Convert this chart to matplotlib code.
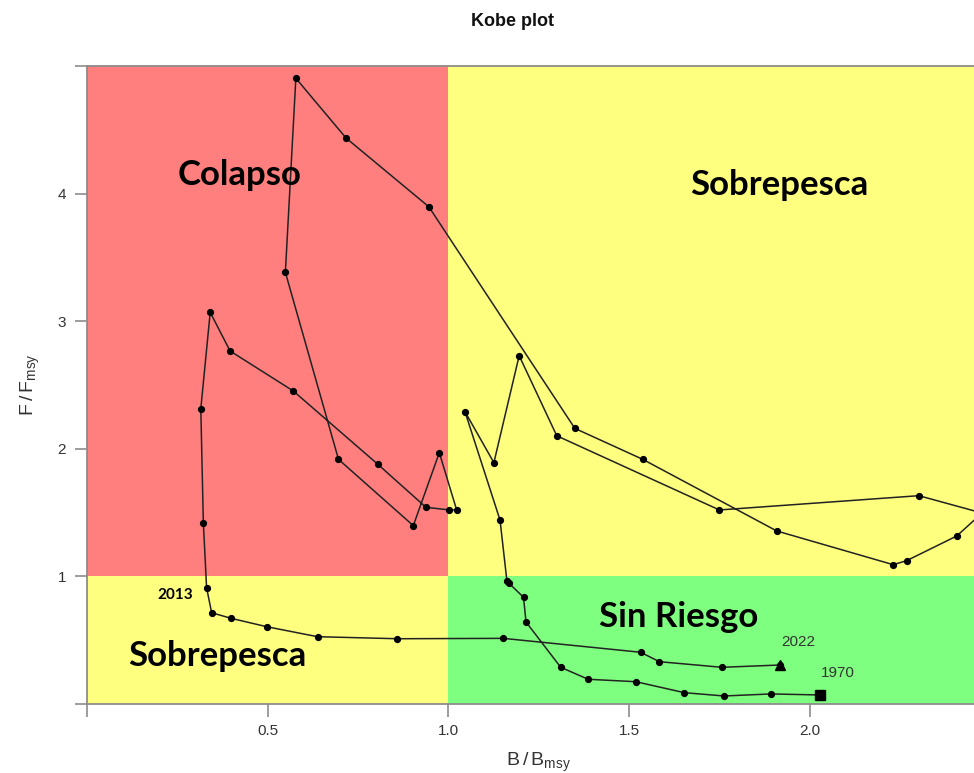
import matplotlib

matplotlib.use("Agg")
import matplotlib.pyplot as plt

# trajectory 1970 -> 2022
b_bmsy = [2.029, 1.892, 1.763, 1.653, 1.519, 1.387, 1.311, 1.215, 1.208, 1.168,
          1.162, 1.143, 1.046, 1.126, 1.196, 1.300, 1.750, 2.302, 2.477, 2.407,
          2.268, 2.231, 1.909, 1.538, 1.350, 0.946, 0.717, 0.578, 0.549, 0.696,
          0.903, 0.975, 1.023, 1.003, 0.938, 0.805, 0.571, 0.396, 0.341, 0.315,
          0.322, 0.331, 0.345, 0.399, 0.498, 0.638, 0.859, 1.152, 1.532, 1.584,
          1.757, 1.918]
f_fmsy = [0.067, 0.075, 0.059, 0.085, 0.171, 0.190, 0.284, 0.639, 0.833, 0.943,
          0.963, 1.439, 2.289, 1.889, 2.728, 2.100, 1.518, 1.630, 1.494, 1.314,
          1.120, 1.089, 1.353, 1.915, 2.158, 3.896, 4.435, 4.904, 3.382, 1.915,
          1.395, 1.967, 1.518, 1.518, 1.539, 1.876, 2.451, 2.765, 3.068, 2.312,
          1.418, 0.908, 0.712, 0.668, 0.602, 0.524, 0.508, 0.511, 0.402, 0.328,
          0.284, 0.302]

x_ticks = [0, 0.5, 1.0, 1.5, 2.0]
x_labels = ["", "0.5", "1.0", "1.5", "2.0"]
y_ticks = [0, 1, 2, 3, 4, 5]
y_labels = ["", "1", "2", "3", "4", ""]

XMAX, YMAX = 2.4546, 5.0
RED, YELLOW, GREEN = "#ff7f7f", "#ffff7f", "#7fff7f"
AX_GREY = "#8c8c8c"
TXT = "#333333"

plt.rcParams["font.family"] = ["Liberation Sans", "DejaVu Sans"]
plt.rcParams["mathtext.fontset"] = "custom"
plt.rcParams["mathtext.rm"] = "Liberation Sans"

fig = plt.figure(figsize=(9.74, 7.73), dpi=100)
ax = fig.add_axes([0.0893, 0.0899, 1 - 0.0893, 0.8247])

# quadrants
ax.axvspan(0, 1, ymin=1 / YMAX, ymax=1, color=RED, lw=0, zorder=0)
ax.axvspan(1, XMAX + 1, ymin=1 / YMAX, ymax=1, color=YELLOW, lw=0, zorder=0)
ax.axvspan(0, 1, ymin=0, ymax=1 / YMAX, color=YELLOW, lw=0, zorder=0)
ax.axvspan(1, XMAX + 1, ymin=0, ymax=1 / YMAX, color=GREEN, lw=0, zorder=0)

ax.plot(b_bmsy, f_fmsy, color="#222222", lw=1.1, marker="o", ms=4.2,
        mfc="black", mec="black", zorder=3)
ax.plot(b_bmsy[0], f_fmsy[0], marker="s", ms=7, color="black", zorder=4)
ax.plot(b_bmsy[-1], f_fmsy[-1], marker="^", ms=7.5, color="black", zorder=4)

ax.text(2.078, 0.239, "1970", fontsize=11, color=TXT, ha="center", va="center")
ax.text(1.968, 0.482, "2022", fontsize=11, color=TXT, ha="center", va="center")

zone_font = ["Lato", "DejaVu Sans"]
zones = [(0.421, 4.145, "Colapso"), (1.915, 4.067, "Sobrepesca"),
         (1.638, 0.678, "Sin Riesgo"), (0.360, 0.373, "Sobrepesca")]
for zx, zy, name in zones:
    ax.text(zx, zy, name, fontsize=25, fontweight="bold", family=zone_font,
            ha="center", va="center")
ax.text(0.244, 0.851, "2013", fontsize=11, fontweight="bold", family=zone_font,
        ha="center", va="center")

ax.set_xlim(0, XMAX)
ax.set_ylim(0, YMAX)
ax.set_xticks(x_ticks)
ax.set_xticklabels(x_labels)
ax.set_yticks(y_ticks)
ax.set_yticklabels(y_labels)
ax.tick_params(axis="both", direction="out", length=9, width=1.2, color=AX_GREY,
               labelcolor=TXT, labelsize=11, pad=6)
for side in ("left", "bottom", "top"):
    ax.spines[side].set_color(AX_GREY)
    ax.spines[side].set_linewidth(1.3)
ax.spines["right"].set_visible(False)

fig.text(0.553, 0.009, r"B$\,$/$\,$B$_{\mathrm{msy}}$", fontsize=14, color=TXT,
         ha="center", va="baseline")
fig.text(0.031, 0.503, r"F$\,$/$\,$F$_{\mathrm{msy}}$", fontsize=14, color=TXT,
         ha="center", va="center", rotation=90)
fig.text(0.5257, 0.972, "Kobe plot", fontsize=13, fontweight="bold", color="#111111",
         ha="center", va="center")

fig.savefig("out.png", dpi=100)
